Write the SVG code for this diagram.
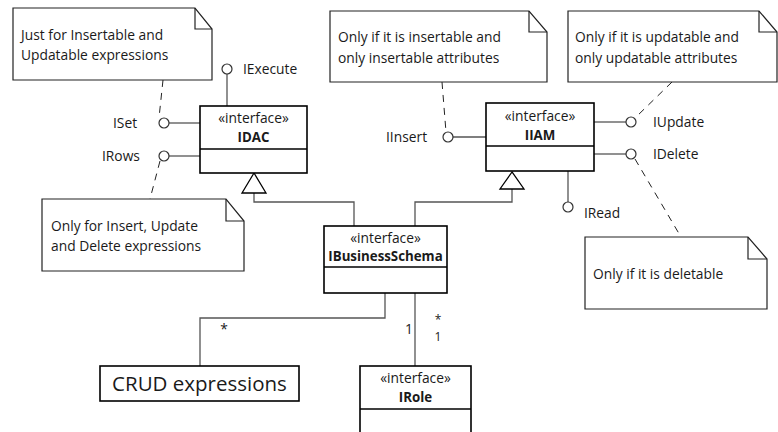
<svg xmlns="http://www.w3.org/2000/svg" width="778" height="432" viewBox="0 0 778 432">
  <style>
    text { font-family: "Open Sans", "Liberation Sans", sans-serif; fill: #1a1a1a; font-size: 13.8px; }
    .box { fill: #fff; stroke: #000; stroke-width: 1.6; }
    .note { fill: #fff; stroke: #222; stroke-width: 1.2; }
    .fold { fill: none; stroke: #222; stroke-width: 1.2; }
    .link { fill: none; stroke: #555; stroke-width: 1.3; }
    .dash { fill: none; stroke: #222; stroke-width: 1; stroke-dasharray: 7 6; }
    .lolly { fill: #fff; stroke: #333; stroke-width: 1.2; }
    .gen { fill: #fff; stroke: #000; stroke-width: 1.3; }
    .c { text-anchor: middle; }
    .b { font-weight: bold; font-size: 13.3px; }
    .big { font-size: 20.5px; }
    .m { font-size: 12px; }
  </style>

  <!-- connectors -->
  <g id="connectors">
    <!-- IDAC provided interfaces -->
    <line class="link" x1="227" y1="74" x2="227" y2="106"/>
    <line class="link" x1="169" y1="123" x2="200" y2="123"/>
    <line class="link" x1="169" y1="156" x2="200" y2="156"/>
    <circle class="lolly" cx="227" cy="69" r="5"/>
    <circle class="lolly" cx="164" cy="123" r="5"/>
    <circle class="lolly" cx="164" cy="156" r="5"/>
    <!-- IIAM provided interfaces -->
    <line class="link" x1="453" y1="137" x2="486" y2="137"/>
    <line class="link" x1="594" y1="122" x2="626" y2="122"/>
    <line class="link" x1="594" y1="154" x2="626" y2="154"/>
    <line class="link" x1="568" y1="171" x2="568" y2="202"/>
    <circle class="lolly" cx="448" cy="137" r="5"/>
    <circle class="lolly" cx="631" cy="122" r="5"/>
    <circle class="lolly" cx="631" cy="154" r="5"/>
    <circle class="lolly" cx="568" cy="207" r="5"/>
    <!-- note anchors -->
    <line class="dash" x1="163" y1="80" x2="159" y2="118"/>
    <line class="dash" x1="160" y1="161" x2="150" y2="199"/>
    <line class="dash" x1="442" y1="82" x2="446" y2="132"/>
    <line class="dash" x1="672" y1="82" x2="635" y2="118"/>
    <line class="dash" x1="635" y1="159" x2="681" y2="237"/>
    <!-- generalizations -->
    <polyline class="link" points="354,226 354,202 254,202 254,193"/>
    <polygon class="gen" points="254,173 242,193 266,193"/>
    <polyline class="link" points="415,226 415,202 512,202 512,189"/>
    <polygon class="gen" points="512,172 500,189 524,189"/>
    <!-- associations -->
    <polyline class="link" points="385,293 385,318 200,318 200,366"/>
    <line class="link" x1="415" y1="293" x2="415" y2="366"/>
    <text x="224" y="334" class="c">*</text>
    <text x="409" y="334" class="c">1</text>
    <text x="438" y="324" class="c m">*</text>
    <text x="438" y="341" class="c m">1</text>
  </g>

  <!-- notes -->
  <g id="note-set">
    <path class="note" d="M13,8 H195 L212,29 V80 H13 Z"/>
    <path class="fold" d="M195,8 V29 H212"/>
    <text x="21" y="40">Just for Insertable and</text>
    <text x="21" y="60">Updatable expressions</text>
  </g>
  <g id="note-rows">
    <path class="note" d="M42,199 H226 L244,221 V271 H42 Z"/>
    <path class="fold" d="M226,199 V221 H244"/>
    <text x="51" y="231">Only for Insert, Update</text>
    <text x="51" y="251">and Delete expressions</text>
  </g>
  <g id="note-insert">
    <path class="note" d="M330,11 H529 L547,32 V82 H330 Z"/>
    <path class="fold" d="M529,11 V32 H547"/>
    <text x="338" y="42">Only if it is insertable and</text>
    <text x="338" y="63">only insertable attributes</text>
  </g>
  <g id="note-update">
    <path class="note" d="M568,11 H759 L777,32 V82 H568 Z"/>
    <path class="fold" d="M759,11 V32 H777"/>
    <text x="575" y="42">Only if it is updatable and</text>
    <text x="575" y="63">only updatable attributes</text>
  </g>
  <g id="note-delete">
    <path class="note" d="M585,237 H748 L767,259 V309 H585 Z"/>
    <path class="fold" d="M748,237 V259 H767"/>
    <text x="593" y="279">Only if it is deletable</text>
  </g>

  <!-- interface labels -->
  <g id="labels">
    <text x="243" y="74">IExecute</text>
    <text x="113" y="128">ISet</text>
    <text x="102" y="161">IRows</text>
    <text x="386" y="142">IInsert</text>
    <text x="653" y="127">IUpdate</text>
    <text x="653" y="159">IDelete</text>
    <text x="584" y="218">IRead</text>
  </g>

  <!-- classes -->
  <g id="IDAC">
    <rect class="box" x="200" y="106" width="107" height="67"/>
    <line class="box" x1="200" y1="149" x2="307" y2="149"/>
    <text x="253.5" y="123" class="c">«interface»</text>
    <text x="253.5" y="142" class="c b">IDAC</text>
  </g>
  <g id="IIAM">
    <rect class="box" x="486" y="103" width="108" height="68"/>
    <line class="box" x1="486" y1="146" x2="594" y2="146"/>
    <text x="540" y="121" class="c">«interface»</text>
    <text x="540" y="140" class="c b">IIAM</text>
  </g>
  <g id="IBusinessSchema">
    <rect class="box" x="324" y="226" width="123" height="67"/>
    <line class="box" x1="324" y1="267" x2="447" y2="267"/>
    <text x="385.5" y="243" class="c">«interface»</text>
    <text x="385.5" y="261" class="c b">IBusinessSchema</text>
  </g>
  <g id="IRole">
    <rect class="box" x="360" y="366" width="111" height="80"/>
    <line class="box" x1="360" y1="409" x2="471" y2="409"/>
    <text x="415.5" y="383" class="c">«interface»</text>
    <text x="415.5" y="402" class="c b">IRole</text>
  </g>
  <g id="CRUD">
    <rect class="box" x="100" y="366" width="199" height="35"/>
    <text x="199.5" y="391" class="c big">CRUD expressions</text>
  </g>
</svg>
